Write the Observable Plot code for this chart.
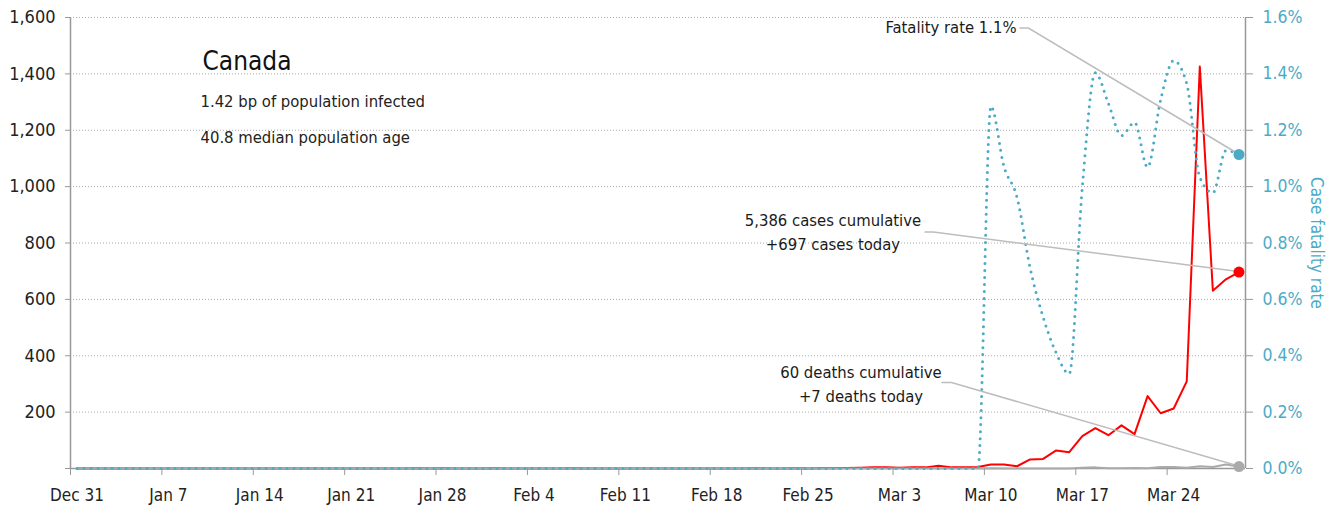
<!DOCTYPE html>
<html>
<head>
<meta charset="utf-8">
<script src="https://cdn.jsdelivr.net/npm/d3@7"></script>
<script src="https://cdn.jsdelivr.net/npm/@observablehq/plot@0.6"></script>
<style>
  body { margin: 0; background: #fff; }
  #chart { width: 1341px; height: 510px; }
</style>
</head>
<body>
<div id="chart"></div>
<script>
// ---------------- DATA ----------------
const country = "Canada";
const subtitleLines = ["1.42 bp of population infected", "40.8 median population age"];
const firstDay = "2019-12-31"; // one value per day, Dec 31 2019 … Mar 29 2020

// daily new cases (90 days)
const dailyCases = [
  0,0,0,0,0,0,0,0,0,0, 0,0,0,0,0,0,0,0,0,0,   // Dec 31 – Jan 19
  0,0,0,0,0,0,1,0,1,0, 0,0,1,0,0,0,0,0,1,0,   // Jan 20 – Feb 8
  0,0,0,0,0,0,0,0,0,0, 0,0,1,0,0,1,0,1,1,2,   // Feb 9 – Feb 28
  3,4,4,3,4,4,10,4,4,5,                        // Feb 29 – Mar 9
  14,14,8,32,34,64,58,115,143,118,             // Mar 10 – Mar 19
  153,122,257,196,213,309,1426,631,671,697     // Mar 20 – Mar 29
];
// daily new deaths (90 days)
const dailyDeaths = [
  0,0,0,0,0,0,0,0,0,0, 0,0,0,0,0,0,0,0,0,0,
  0,0,0,0,0,0,0,0,0,0, 0,0,0,0,0,0,0,0,0,0,
  0,0,0,0,0,0,0,0,0,0, 0,0,0,0,0,0,0,0,0,0,
  0,0,0,0,0,0,0,0,0,0,
  1,0,0,0,0,0,0,3,4,1,
  1,2,1,5,5,3,8,5,14,7
];
// case fatality rate, percent (90 days)
const fatalityRatePct = [
  0,0,0,0,0,0,0,0,0,0, 0,0,0,0,0,0,0,0,0,0,
  0,0,0,0,0,0,0,0,0,0, 0,0,0,0,0,0,0,0,0,0,
  0,0,0,0,0,0,0,0,0,0, 0,0,0,0,0,0,0,0,0,0,
  0,0,0,0,0,0,0,0,0,0,
  1.285,1.071,0.962,0.712,0.537,0.41,0.336,0.998,1.404,1.295,
  1.181,1.228,1.069,1.308,1.447,1.365,1.033,0.978,1.128,1.114
];
const xTickDates = ["2019-12-31","2020-01-07","2020-01-14","2020-01-21","2020-01-28","2020-02-04",
  "2020-02-11","2020-02-18","2020-02-25","2020-03-03","2020-03-10","2020-03-17","2020-03-24"];
const yTicks = [0, 200, 400, 600, 800, 1000, 1200, 1400, 1600];
const rateTicksPct = [0, 0.2, 0.4, 0.6, 0.8, 1.0, 1.2, 1.4, 1.6];
const rateAxisLabel = "Case fatality rate";
const fatalityLabel = ["Fatality rate 1.1%"];
const casesLabel = ["5,386 cases cumulative", "+697 cases today"];
const deathsLabel = ["60 deaths cumulative", "+7 deaths today"];

// ---------------- BUILD ----------------
const BLUE = "#4babc6";
const RED = "#ff0000";
const GREY = "#aaaaaa";
const RATE_TO_Y = 1000;           // 1.6 % on the right axis ↔ 1,600 on the left axis
const DAY = 864e5;
const t0 = d3.utcParse("%Y-%m-%d")(firstDay).getTime();
const rows = dailyCases.map((c, i) => ({
  date: new Date(t0 + i * DAY + DAY / 2),
  cases: c,
  deaths: dailyDeaths[i],
  rateY: fatalityRatePct[i] * RATE_TO_Y
}));
const last = rows[rows.length - 1];
const xDomain = [new Date(t0), new Date(t0 + rows.length * DAY)];
const xTicks = xTickDates.map(d3.utcParse("%Y-%m-%d"));

// annotation layout (pixel offsets from the end point; dys = vertical centre of each line)
const annotations = [
  {lines: fatalityLabel, date: last.date, value: last.rateY, dx: -288, dys: [-126.5], lineStart: [-219, -126], elbow: 9},
  {lines: casesLabel,    date: last.date, value: last.cases, dx: -406, dys: [-51.5, -27], lineStart: [-314, -39.5], elbow: 9},
  {lines: deathsLabel,   date: last.date, value: last.deaths, dx: -378, dys: [-94, -69.5], lineStart: [-297, -83.5], elbow: 10}
];

const FONT = '"DejaVu Sans Condensed","Liberation Sans Narrow","Roboto Condensed",sans-serif';
const FS_ANN = 16.5;

const connectors = (index, scales) => {
  const ns = "http://www.w3.org/2000/svg";
  const g = document.createElementNS(ns, "g");
  g.setAttribute("fill", "none");
  g.setAttribute("stroke", "#bdbdbd");
  g.setAttribute("stroke-width", "1.5");
  for (const a of annotations) {
    const X = scales.x(a.date), Y = scales.y(a.value);
    const sx = X + a.lineStart[0], sy = Y + a.lineStart[1];
    const p = document.createElementNS(ns, "path");
    p.setAttribute("d", `M${sx},${sy}H${sx + a.elbow}L${X},${Y}`);
    g.appendChild(p);
  }
  return g;
};

const annotationTexts = annotations.flatMap(a => a.lines.map((line, i) =>
  Plot.text([a], {x: "date", y: "value", text: () => line, dx: a.dx, dy: a.dys[i],
    textAnchor: "middle", lineAnchor: "middle", fontSize: FS_ANN, fill: "#1a1a1a"})));

const chart = Plot.plot({
  width: 1341,
  height: 510,
  marginLeft: 70,
  marginRight: 96,
  marginTop: 17,
  marginBottom: 42,
  style: {fontFamily: FONT, fontSize: "17px", background: "#fff", color: "#222"},
  x: {type: "utc", domain: xDomain},
  y: {domain: [0, 1600]},
  marks: [
    // dotted grid
    Plot.ruleY(yTicks.filter(d => d > 0), {stroke: "#aaa", strokeWidth: 1, strokeDasharray: "1,2"}),
    // axis lines
    Plot.ruleX([xDomain[0], xDomain[1]], {stroke: "#999", strokeWidth: 1.5}),
    Plot.ruleY([0], {stroke: "#999", strokeWidth: 1.5}),
    // series
    Plot.lineY(rows, {x: "date", y: "cases", stroke: RED, strokeWidth: 2}),
    Plot.lineY(rows, {x: "date", y: "deaths", stroke: GREY, strokeWidth: 2}),
    Plot.lineY(rows, {x: "date", y: "rateY", stroke: BLUE, strokeWidth: 3, strokeDasharray: "0,7",
      strokeLinecap: "round", curve: "monotone-x"}),
    // annotations
    connectors,
    Plot.dot([last], {x: "date", y: "rateY", r: 5.5, fill: BLUE}),
    Plot.dot([last], {x: "date", y: "cases", r: 5.5, fill: RED}),
    Plot.dot([last], {x: "date", y: "deaths", r: 5.5, fill: GREY}),
    ...annotationTexts,
    // title block
    Plot.text([country], {text: d => d, frameAnchor: "top-left", dx: 132, dy: 44, lineAnchor: "middle",
      fontSize: 26, fill: "#111"}),
    ...subtitleLines.map((line, i) => Plot.text([line], {text: d => d, frameAnchor: "top-left", dx: 130,
      dy: 84 + 36 * i, lineAnchor: "middle", fontSize: FS_ANN, fill: "#222"})),
    // axes
    Plot.axisY(yTicks, {anchor: "left", tickSize: 5, tickPadding: 10, stroke: "#999", fill: "#222",
      fontSize: 18, label: null, tickFormat: d => d === 0 ? "" : d3.format(",")(d)}),
    Plot.axisY(rateTicksPct.map(r => r * RATE_TO_Y), {anchor: "right", tickSize: 7, tickPadding: 10,
      stroke: "#999", fill: BLUE, fontSize: 17.5, label: null,
      tickFormat: d => (d / RATE_TO_Y).toFixed(1) + "%"}),
    Plot.text([rateAxisLabel], {text: d => d, frameAnchor: "right", dx: 71, rotate: 90,
      textAnchor: "middle", lineAnchor: "middle", fontSize: 17, fill: BLUE}),
    Plot.axisX(xTicks, {anchor: "bottom", tickSize: 7, stroke: "#999", label: null, tickFormat: () => ""}),
    Plot.axisX(xTicks, {anchor: "bottom", tickSize: 0, tickPadding: 20, dx: 6.5, fill: "#222",
      fontSize: 17, label: null, tickFormat: d3.utcFormat("%b %-d")})
  ]
});
document.getElementById("chart").appendChild(chart);
</script>
</body>
</html>
